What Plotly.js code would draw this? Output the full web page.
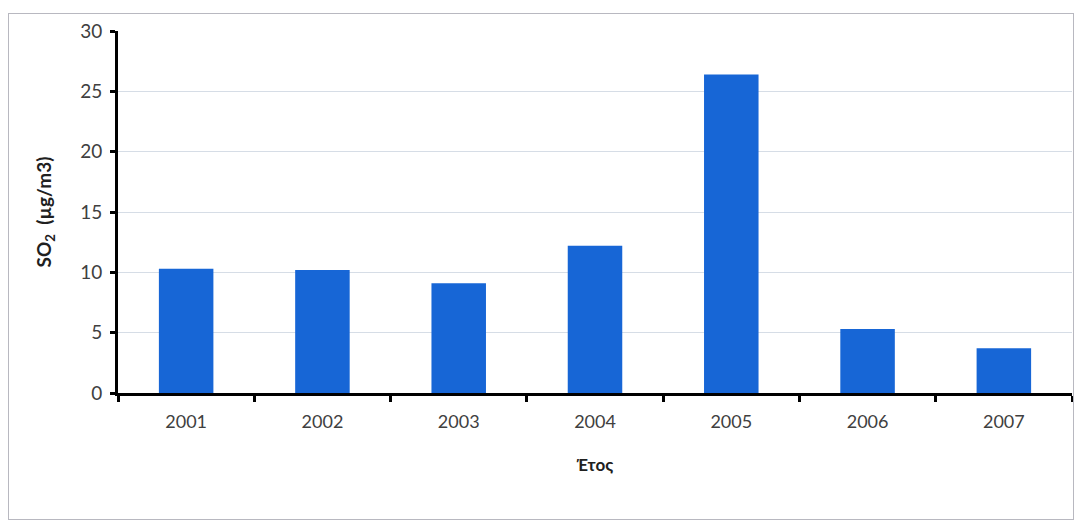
<!DOCTYPE html>
<html>
<head>
<meta charset="utf-8">
<script src="https://cdn.plot.ly/plotly-3.0.1.min.js"></script>
<style>
  html, body { margin: 0; padding: 0; background: #fff; }
  #wrap { position: relative; width: 1080px; height: 528px; }
  #chart { width: 1080px; height: 528px; }
  #frame { position: absolute; left: 8px; top: 13px; width: 1066px; height: 507px;
           border: 1px solid #b8b8c0; pointer-events: none; box-sizing: border-box; }
</style>
</head>
<body>
<div id="wrap">
  <div id="chart"></div>
  <div id="frame"></div>
</div>
<script>
const years = ['2001', '2002', '2003', '2004', '2005', '2006', '2007'];
const so2Values = [10.3, 10.2, 9.1, 12.2, 26.4, 5.3, 3.7];
const yTicks = [0, 5, 10, 15, 20, 25, 30];

const trace = {
  type: 'bar',
  x: years,
  y: so2Values,
  marker: { color: '#1766d6' },
  hoverinfo: 'x+y'
};

const layout = {
  width: 1080,
  height: 528,
  margin: { l: 118, r: 8, t: 31, b: 135 },
  paper_bgcolor: '#ffffff',
  plot_bgcolor: '#ffffff',
  bargap: 0.6,
  showlegend: false,
  font: { family: 'Lato, "Open Sans", sans-serif', color: '#404040', size: 18 },
  xaxis: {
    type: 'category',
    showline: true,
    linecolor: '#000000',
    linewidth: 3,
    ticks: 'outside',
    tickson: 'boundaries',
    ticklen: 6,
    tickwidth: 3,
    tickcolor: '#000000',
    showgrid: false,
    ticklabelstandoff: 10,
    tickfont: { size: 18, color: '#404040' },
    title: { text: '<b>Έτος</b>', font: { size: 17, color: '#202020' }, standoff: 29 }
  },
  yaxis: {
    range: [0, 30],
    tickvals: yTicks,
    showline: true,
    linecolor: '#000000',
    linewidth: 3,
    ticks: 'outside',
    ticklen: 5,
    tickwidth: 3,
    tickcolor: '#000000',
    showgrid: true,
    gridcolor: '#d6dde6',
    gridwidth: 1,
    zeroline: false,
    ticklabelstandoff: 4,
    tickfont: { size: 19, color: '#404040' },
    title: { text: '<b>SO<sub>2</sub>  (µg/m3)</b>', font: { size: 19, color: '#202020' }, standoff: 24 }
  }
};

Plotly.newPlot('chart', [trace], layout, { displayModeBar: false, staticPlot: true });
</script>
</body>
</html>
